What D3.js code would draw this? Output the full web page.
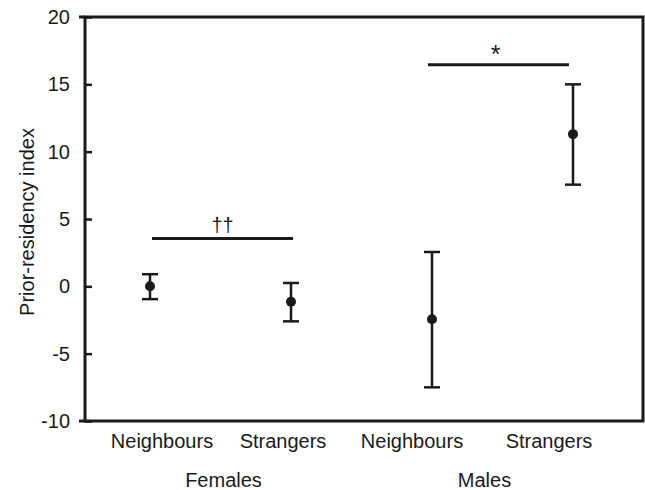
<!DOCTYPE html>
<html>
<head>
<meta charset="utf-8">
<script src="https://cdn.jsdelivr.net/npm/d3@7"></script>
<style>
  body { margin: 0; background: #fff; }
  text { font-family: "Liberation Sans", Arial, sans-serif; fill: #1a1a1a; }
</style>
</head>
<body>
<div class="chart"></div>
<script>
// values
const groups = ['Females', 'Males'];
const categories = ['Neighbours', 'Strangers', 'Neighbours', 'Strangers'];
const categoryGroup = ['Females', 'Females', 'Males', 'Males'];
const means = [0, -1.15, -2.45, 11.3];
const upper = [0.9, 0.25, 2.55, 15.0];
const lower = [-0.95, -2.6, -7.5, 7.55];
const yTicks = [-10, -5, 0, 5, 10, 15, 20];
const sigLabels = ['††', '*'];
const sigLevels = [3.55, 16.45];
const sigPairs = [[0, 1], [2, 3]];

const width = 645;
const height = 490;
const margin = { top: 17, right: 2, bottom: 69, left: 85 };
const ink = '#1a1a1a';

// label layout tweaks (labels in the figure are not centred under the points)
const labelShift = [12, -8, -20, -24];
const groupShift = [3, -18];

const svg = d3.select('.chart')
  .append('svg')
  .attr('width', width)
  .attr('height', height);

const keys = categories.map((c, i) => i);

const xScale = d3.scalePoint()
  .domain(keys)
  .range([margin.left + 65, width - margin.right - 70]);

const yScale = d3.scaleLinear()
  .domain([-10, 20])
  .range([height - margin.bottom, margin.top]);

const rows = keys.map(i => ({
  i: i, cat: categories[i], group: categoryGroup[i],
  mean: means[i], hi: upper[i], lo: lower[i]
}));

// frame
const x0 = margin.left;
const x1 = width - margin.right;
svg.append('rect')
  .attr('x', x0)
  .attr('y', yScale(20))
  .attr('width', x1 - x0)
  .attr('height', yScale(-10) - yScale(20))
  .attr('fill', 'none')
  .attr('stroke', ink)
  .attr('stroke-width', 3);

// y axis (ticks inward, plain hyphen minus like the figure)
const yAxis = d3.axisLeft(yScale)
  .tickValues(yTicks)
  .tickSize(-7)
  .tickPadding(15)
  .tickFormat(d => String(d));

const axisLeft = svg.append('g')
  .attr('transform', `translate(${x0}, 0)`)
  .call(yAxis);

axisLeft.select('.domain').remove();
axisLeft.selectAll('line')
  .attr('stroke', ink)
  .attr('stroke-width', 2.5);
axisLeft.selectAll('text')
  .style('font-size', '20px')
  .attr('fill', ink);

// small outward stubs at the ends of the frame
svg.selectAll('.stub')
  .data([-10, 20])
  .join('line')
  .attr('class', 'stub')
  .attr('x1', x0 - 6)
  .attr('x2', x0)
  .attr('y1', d => yScale(d))
  .attr('y2', d => yScale(d))
  .attr('stroke', ink)
  .attr('stroke-width', 3);

// error bars
const bars = svg.append('g').attr('class', 'error-bars');

bars.selectAll('.whisker')
  .data(rows)
  .join('line')
  .attr('class', 'whisker')
  .attr('x1', d => xScale(d.i))
  .attr('x2', d => xScale(d.i))
  .attr('y1', d => yScale(d.hi))
  .attr('y2', d => yScale(d.lo))
  .attr('stroke', ink)
  .attr('stroke-width', 2.5);

bars.selectAll('.cap-hi')
  .data(rows)
  .join('line')
  .attr('class', 'cap-hi')
  .attr('x1', d => xScale(d.i) - 8)
  .attr('x2', d => xScale(d.i) + 8)
  .attr('y1', d => yScale(d.hi))
  .attr('y2', d => yScale(d.hi))
  .attr('stroke', ink)
  .attr('stroke-width', 2.5);

bars.selectAll('.cap-lo')
  .data(rows)
  .join('line')
  .attr('class', 'cap-lo')
  .attr('x1', d => xScale(d.i) - 8)
  .attr('x2', d => xScale(d.i) + 8)
  .attr('y1', d => yScale(d.lo))
  .attr('y2', d => yScale(d.lo))
  .attr('stroke', ink)
  .attr('stroke-width', 2.5);

bars.selectAll('circle')
  .data(rows)
  .join('circle')
  .attr('cx', d => xScale(d.i))
  .attr('cy', d => yScale(d.mean))
  .attr('r', 5)
  .attr('fill', ink);

// significance lines
const sig = svg.append('g').attr('class', 'sig');
const sigRows = sigLabels.map((s, k) => ({ label: s, level: sigLevels[k], pair: sigPairs[k] }));

sig.selectAll('line')
  .data(sigRows)
  .join('line')
  .attr('x1', d => xScale(d.pair[0]) + (d.label === '*' ? -4 : 2))
  .attr('x2', d => xScale(d.pair[1]) + (d.label === '*' ? -4 : 2))
  .attr('y1', d => yScale(d.level))
  .attr('y2', d => yScale(d.level))
  .attr('stroke', ink)
  .attr('stroke-width', 3);

sig.selectAll('text')
  .data(sigRows)
  .join('text')
  .attr('x', d => (xScale(d.pair[0]) + xScale(d.pair[1])) / 2 + (d.label === '*' ? -7 : 2))
  .attr('y', d => yScale(d.level) - (d.label === '*' ? 2 : 7))
  .attr('text-anchor', 'middle')
  .style('font-size', d => d.label === '*' ? '25px' : '20px')
  .text(d => d.label);

// category and group labels
svg.selectAll('.cat-label')
  .data(rows)
  .join('text')
  .attr('class', 'cat-label')
  .attr('x', d => xScale(d.i) + labelShift[d.i])
  .attr('y', height - 42)
  .attr('text-anchor', 'middle')
  .style('font-size', '20px')
  .text(d => d.cat);

svg.selectAll('.group-label')
  .data(groups)
  .join('text')
  .attr('class', 'group-label')
  .attr('x', (g, k) => {
    const members = rows.filter(r => r.group === g).map(r => xScale(r.i));
    return d3.mean(members) + groupShift[k];
  })
  .attr('y', height - 3)
  .attr('text-anchor', 'middle')
  .style('font-size', '20px')
  .text(g => g);

// y axis title
svg.append('text')
  .attr('text-anchor', 'middle')
  .attr('transform', `translate(34, ${(yScale(20) + yScale(-10)) / 2 + 3}) rotate(270)`)
  .style('font-size', '20px')
  .text('Prior-residency index');
</script>
</body>
</html>
